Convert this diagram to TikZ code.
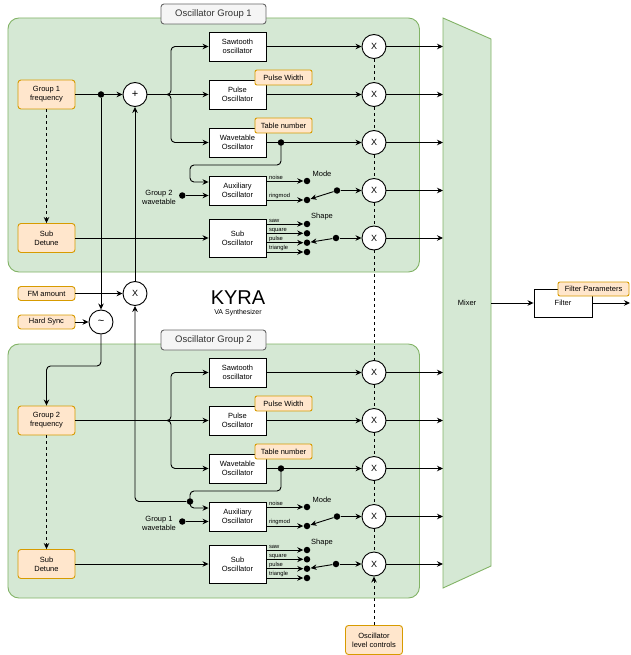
\documentclass[tikz,border=0pt]{standalone}
\usepackage{fontspec}
\setmainfont{Liberation Sans}
\usetikzlibrary{arrows.meta}
\definecolor{greenF}{HTML}{D5E8D4}
\definecolor{greenS}{HTML}{82B366}
\definecolor{orangeF}{HTML}{FFE6CC}
\definecolor{orangeS}{HTML}{D79B00}
\definecolor{grayF}{HTML}{F5F5F5}
\definecolor{grayS}{HTML}{666666}
\definecolor{grayT}{HTML}{333333}
\tikzset{
 base/.style={font=\fontsize{7.5}{9}\selectfont, align=center, inner sep=1pt},
 osc/.style={base, draw, fill=white, minimum width=57, minimum height=29},
 par/.style={base, draw=orangeS, fill=orangeF, rounded corners=3, minimum width=57, minimum height=29},
 tag/.style={base, draw=orangeS, fill=orangeF, rounded corners=2, minimum width=57, minimum height=15},
 grp/.style={draw=greenS, fill=greenF, rounded corners=11, minimum width=411.5, minimum height=254, inner sep=0},
 ttl/.style={font=\fontsize{9.5}{11}\selectfont, text=grayT, draw=grayS, fill=grayF, rounded corners=3, minimum width=105, minimum height=20, inner sep=1pt},
 op/.style={circle, draw, fill=white, minimum size=24, inner sep=0, font=\fontsize{9}{10}\selectfont},
 dot/.style={circle, fill=black, minimum size=6.5, inner sep=0},
 arr/.style={-{Stealth[length=6pt,width=5.5pt]}},
 lbl/.style={font=\fontsize{5.8}{6}\selectfont, inner sep=0.6pt, anchor=south west},
}
\newcommand\OscGroup[3]{%
 \node[grp] (box#1) at (213.7,145) {};
 \node[ttl] (ttl#1) at (213.5,14) {Oscillator Group #2};
 \node[par] (frq#1) at (46.5,94.5) {Group #2\\frequency};
 \node[par] (sd#1) at (46.5,238) {Sub\\Detune};
 \node[osc] (saw#1) at (237.5,46.5) {Sawtooth\\oscillator};
 \node[osc] (pul#1) at (237.5,94.5) {Pulse\\Oscillator};
 \node[osc] (wt#1) at (237.5,142.5) {Wavetable\\Oscillator};
 \node[osc] (aux#1) at (237.5,190.5) {Auxiliary\\Oscillator};
 \node[osc,minimum height=38] (sub#1) at (237.5,238) {Sub\\Oscillator};
 \node[tag] (pw#1) at (283.5,77.5) {Pulse Width};
 \node[tag] (tn#1) at (283.5,125.5) {Table number};
 \node[op] (xa#1) at (374,46.5) {X};
 \node[op] (xb#1) at (374,94.5) {X};
 \node[op] (xc#1) at (374,142.5) {X};
 \node[op] (xd#1) at (374,190.5) {X};
 \node[op] (xe#1) at (374,238) {X};
 \draw[dashed] (xa#1) -- (xb#1);
 \draw[dashed] (xb#1) -- (xc#1);
 \draw[dashed] (xc#1) -- (xd#1);
 \draw[dashed] (xd#1) -- (xe#1);
 \draw[arr,dashed] (frq#1) -- (sd#1);
 \draw[arr] (sd#1) -- (sub#1);
 \draw[arr] (saw#1) -- (xa#1);
 \draw[arr] (pul#1) -- (xb#1);
 \draw[arr] (wt#1) -- (xc#1);
 \node[dot] (wd#1) at (281,142.5) {};
 \draw[arr,rounded corners=4] (wd#1.center) -- (281,165) -- (190,165) -- (190,182) -- (aux#1.west |- 0,182);
 \node[base] (wtt#1) at (159,197) {Group #3\\wavetable};
 \node[dot] (wti#1) at (182.3,195.5) {};
 \draw[arr] (wti#1) -- (aux#1.west |- wti#1);
 % auxiliary outputs
 \node[dot] (an#1) at (307,181) {};
 \node[dot] (ar#1) at (307,200) {};
 \draw[arr] (aux#1.east |- an#1) -- (an#1);
 \draw[arr] (aux#1.east |- ar#1) -- (ar#1);
 \node[lbl] (anl#1) at (268,181) {noise};
 \node[lbl] (arl#1) at (268,200) {ringmod};
 \node[base] (mode#1) at (322,174) {Mode};
 \node[dot] (asw#1) at (337,190.5) {};
 \draw[arr] (asw#1) -- (xd#1);
 \draw[arr] (asw#1) -- (ar#1);
 % sub outputs
 \node[dot] (s1#1) at (307,224) {};
 \node[dot] (s2#1) at (307,233.3) {};
 \node[dot] (s3#1) at (307,242.7) {};
 \node[dot] (s4#1) at (307,252) {};
 \draw[arr] (sub#1.east |- s1#1) -- (s1#1);
 \draw[arr] (sub#1.east |- s2#1) -- (s2#1);
 \draw[arr] (sub#1.east |- s3#1) -- (s3#1);
 \draw[arr] (sub#1.east |- s4#1) -- (s4#1);
 \node[lbl] (s1l#1) at (268,224) {saw};
 \node[lbl] (s2l#1) at (268,233.3) {square};
 \node[lbl] (s3l#1) at (268,242.7) {pulse};
 \node[lbl] (s4l#1) at (268,252) {triangle};
 \node[base] (shape#1) at (322,217) {Shape};
 \node[dot] (ssw#1) at (336,238) {};
 \draw[arr] (ssw#1) -- (xe#1);
 \draw[arr] (ssw#1) -- (s3#1);
 % to mixer
 \draw[arr] (xa#1) -- (xa#1 -| mixL);
 \draw[arr] (xb#1) -- (xb#1 -| mixL);
 \draw[arr] (xc#1) -- (xc#1 -| mixL);
 \draw[arr] (xd#1) -- (xd#1 -| mixL);
 \draw[arr] (xe#1) -- (xe#1 -| mixL);
}
\begin{document}
\begin{tikzpicture}[x=1pt,y=-1pt,line width=0.9pt]
\useasboundingbox (0,0) rectangle (630,655);
% mixer and filter
\draw[draw=greenS, fill=greenF] (443,18) -- (491,39) -- (491,566) -- (443,588) -- cycle;
\node[base] (mixlbl) at (467,303) {Mixer};
\coordinate (mixL) at (443,303);
\coordinate (mixR) at (491,303);
\node[osc, minimum width=58, minimum height=28] (flt) at (563,303) {Filter};
\node[tag, minimum width=71, minimum height=14] (fpar) at (593.5,289) {Filter Parameters};
\coordinate (out) at (630,303);
\draw[arr] (mixR) -- (flt);
\draw[arr] (flt) -- (out);
% groups
\OscGroup{1}{1}{2}
\begin{scope}[shift={(0,326)}]
\OscGroup{2}{2}{1}
\end{scope}
% group 1 input
\node[op, font=\fontsize{11}{12}\selectfont] (plus) at (135,94.5) {+};
\draw[arr] (frq1) -- (plus);
\node[dot] (j1) at (101,94.5) {};
\draw[arr,rounded corners=4] (plus) -- (171,94.5) |- (saw1);
\draw[arr] (plus) -- (pul1);
\draw[arr,rounded corners=4] (plus) -- (171,94.5) |- (wt1);
% group 2 input
\draw[arr] (frq2) -- (pul2);
\draw[arr,rounded corners=4] (frq2) -- (171,420.5) |- (saw2);
\draw[arr,rounded corners=4] (frq2) -- (171,420.5) |- (wt2);
% FM and sync
\node[par,minimum height=14] (fm) at (46.5,293.5) {FM amount};
\node[par,minimum height=14] (hs) at (46.5,322) {Hard Sync};
\node[op] (fmx) at (135,293.5) {X};
\node[op, font=\fontsize{11}{12}\selectfont] (sync) at (101,322) {\textasciitilde};
\draw[arr] (fm) -- (fmx);
\draw[arr] (hs) -- (sync);
\draw[arr] (j1) -- (sync);
\draw[arr] (fmx) -- (plus);
\draw[arr,rounded corners=4] (sync) -- (101,366) -| (frq2);
\node[dot] (j2) at (190,501.5) {};
\draw[arr,rounded corners=4] (j2) -| (fmx);
% level controls
\draw[dashed] (xe1) -- (xa2);
\node[par] (olc) at (374,640) {Oscillator\\level controls};
\draw[arr,dashed] (olc) -- (xe2);
% title
\node (kyra) at (238,298) {\fontsize{20}{22}\selectfont KYRA};
\node (va) at (238,313) {\fontsize{7}{8}\selectfont VA Synthesizer};
\end{tikzpicture}
\end{document}
